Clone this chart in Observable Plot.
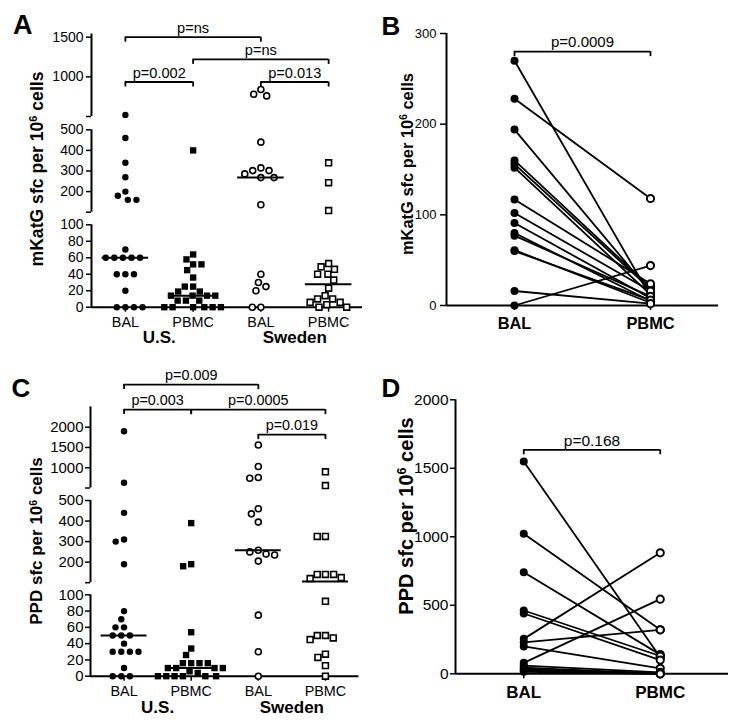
<!DOCTYPE html>
<html><head><meta charset="utf-8">
<script src="https://cdn.jsdelivr.net/npm/d3@7"></script>
<script src="https://cdn.jsdelivr.net/npm/@observablehq/plot@0.6"></script>
<style>
body{margin:0;background:#fff;font-family:"Liberation Sans",Arial,Helvetica,sans-serif;}
#chart{position:relative;width:743px;height:722px;overflow:hidden;background:#fff;}
#chart svg{position:absolute;left:0;top:0;}
.letter{position:absolute;font-weight:bold;line-height:1;color:#000;}
.ytitle{position:absolute;font-weight:bold;line-height:1;white-space:nowrap;transform:translate(-50%,-50%) rotate(-90deg);color:#000;}
.ytitle sup{font-size:0.62em;vertical-align:0.55em;line-height:0;}
</style></head><body><div id="chart"></div><script>
// ---------------- DATA ----------------
const groupKeys = ["US BAL", "US PBMC", "SE BAL", "SE PBMC"];
const groupLabels = ["BAL", "PBMC", "BAL", "PBMC"];
const countryLabels = ["U.S.", "Sweden"];
const sites = ["BAL", "PBMC"];

// Panel A: mKatG sfc per 10^6 cells
const katgUsBal = [520, 460, 340, 270, 200, 180, 160, 160, 70, 60, 60, 60, 60, 60, 40, 40, 40, 20, 0, 0, 0, 0];
const katgUsPbmc = [400, 64, 58, 52, 52, 45, 36, 25, 25, 19, 19, 14, 14, 14, 14, 8, 8, 8, 0, 0, 0, 0, 0, 0];
const katgSeBal = [840, 780, 760, 440, 315, 302, 302, 286, 268, 268, 136, 40, 30, 25, 20, 0, 0];
const katgSePbmc = [340, 243, 108, 53, 49, 46, 40, 40, 33, 23, 14, 10, 10, 6, 6, 3, 0, 0];
const katgTicks = [0, 20, 40, 60, 80, 100, 200, 300, 400, 500, 1000, 1500];
const katgBracketFrom = ["US BAL", "US PBMC", "US BAL", "SE BAL"];
const katgBracketTo = ["SE BAL", "SE PBMC", "US PBMC", "SE PBMC"];
const katgBracketLevel = [1500, 1220, 935, 935];
const katgBracketLabel = ["p=ns", "p=ns", "p=0.002", "p=0.013"];

// Panel B: paired mKatG
const pairKatgBal = [270, 228, 194, 160, 156, 152, 117, 102, 91, 80, 77, 61, 60, 16, 0];
const pairKatgPbmc = [10, 118, 15, 20, 18, 12, 24, 16, 8, 5, 10, 3, 6, 2, 44];
const pairKatgTicks = [0, 100, 200, 300];
const pairKatgBracketLevel = 280;
const pairKatgBracketLabel = "p=0.0009";

// Panel C: PPD sfc per 10^6 cells
const ppdUsBal = [1900, 630, 440, 310, 300, 190, 80, 70, 60, 60, 50, 50, 50, 40, 30, 30, 30, 30, 10, 0, 0, 0];
const ppdUsPbmc = [390, 190, 180, 54, 34, 26, 16, 16, 16, 16, 10, 10, 10, 10, 6, 4, 0, 0, 0, 0, 0, 0];
const ppdSeBal = [1560, 1030, 760, 740, 460, 435, 395, 258, 250, 240, 235, 205, 75, 30, 0];
const ppdSePbmc = [900, 560, 325, 325, 140, 140, 140, 125, 120, 92, 50, 50, 47, 45, 27, 23, 13, 0];
const ppdTicks = [0, 20, 40, 60, 80, 100, 200, 300, 400, 500, 1000, 1500, 2000];
const ppdBracketFrom = ["US BAL", "US BAL", "US PBMC", "SE BAL"];
const ppdBracketTo = ["SE BAL", "US PBMC", "SE PBMC", "SE PBMC"];
const ppdBracketLevel = [3050, 2433, 2433, 1818];
const ppdBracketLabel = ["p=0.009", "p=0.003", "p=0.0005", "p=0.019"];

// Panel D: paired PPD
const pairPpdBal = [1550, 1022, 742, 462, 440, 255, 230, 200, 80, 60, 45, 35, 25, 15];
const pairPpdPbmc = [120, 321, 140, 130, 100, 883, 321, 40, 545, 10, 0, 5, 0, 0];
const pairPpdTicks = [0, 500, 1000, 1500, 2000];
const pairPpdBracketLevel = 1635;
const pairPpdBracketLabel = "p=0.168";

// ---------------- LAYOUT ----------------
const W = 743, H = 722, EPS = 1e-6;
const FONT = '"Liberation Sans", Arial, Helvetica, sans-serif';
const chart = document.getElementById("chart");
const baseStyle = {background: "transparent", overflow: "visible", fontFamily: FONT, color: "#000"};

const dotStyles = [
  {symbol: "circle", r: 3.2, fill: "black", padding: 2.2},
  {symbol: "square", r: 3.6, fill: "black", padding: 1.1},
  {symbol: "circle", r: 3.0, fill: "white", stroke: "black", strokeWidth: 1.6, padding: 2.6},
  {symbol: "square", r: 3.3, fill: "white", stroke: "black", strokeWidth: 1.6, padding: 1.6}
];

function groupPanel(values, ticks, brFrom, brTo, brLevel, brLabel, L) {
  const domain = L.segs.flatMap(([lo, hi], i) => [i ? lo + EPS : lo, hi]);
  const range = L.segs.flatMap(s => [s[2], s[3]]);
  const segLines = L.segs.map(([lo, hi], i) => ({lo: i ? lo + EPS : lo, hi}));
  const allTicks = ticks.concat(segLines.slice(1).map(s => s.lo));
  const xPos = k => groupKeys.indexOf(k) + 1;
  const brackets = brLabel.map((t, i) => ({x1: xPos(brFrom[i]), x2: xPos(brTo[i]), y: brLevel[i], t}));
  const ends = brackets.flatMap(b => [{x: b.x1, y: b.y}, {x: b.x2, y: b.y}]);
  const countries = countryLabels.map((c, i) => ({c, pos: 2 * i + 1.5}));
  const margins = {marginLeft: L.x[0], marginRight: W - L.x[1], marginTop: 0, marginBottom: H - L.segs[0][2]};

  const base = Plot.plot({
    width: W, height: H, ...margins,
    x: {type: "linear", domain: [0.5, 4.5], range: L.x},
    y: {type: "linear", domain, range},
    style: baseStyle,
    marks: [
      Plot.ruleX(segLines, {x: 0.5, y1: "lo", y2: "hi", strokeWidth: 2}),
      Plot.ruleY([0], {x1: 0.5, x2: 4.5, strokeWidth: 2}),
      Plot.axisY({ticks: allTicks, tickFormat: d => ticks.includes(d) ? String(d) : "", tickSize: 5, tickPadding: L.tickPad, fontSize: L.tickFont, strokeWidth: 1.5, label: null}),
      Plot.axisX({ticks: [1, 2, 3, 4], tickFormat: i => groupLabels[i - 1], tickSize: 5, tickPadding: L.catPad, fontSize: L.catFont, strokeWidth: 1.5, label: null}),
      Plot.text(countries, {x: "pos", frameAnchor: "bottom", dy: L.countryDy, text: "c", fontWeight: "bold", fontSize: L.countryFont}),
      Plot.ruleY(brackets, {y: "y", x1: "x1", x2: "x2", strokeWidth: 1.8}),
      Plot.ruleX(ends, {x: "x", y1: "y", y2: "y", insetBottom: -5, strokeWidth: 1.8}),
      Plot.text(brackets, {x: d => (d.x1 + d.x2) / 2, y: "y", text: "t", dy: -9, fontSize: L.pFont})
    ]
  });
  chart.appendChild(base);

  const medians = groupKeys.map((k, i) => ({group: k, m: d3.median(values[i])}));
  const dots = Plot.plot({
    width: W, height: H, ...margins,
    fx: {domain: groupKeys, range: L.x, padding: 0, round: false, axis: null},
    y: {type: "linear", domain, range, axis: null},
    style: baseStyle,
    marks: [
      ...groupKeys.map((k, i) => {
        const pts = values[i].map(v => ({group: k, value: v}));
        const {padding, ...st} = dotStyles[i];
        return Plot.dot(pts, Plot.dodgeX({anchor: "middle", padding}, {fx: "group", y: "value", ...st}));
      }),
      Plot.ruleY(medians, {fx: "group", y: "m", insetLeft: 10.6, insetRight: 10.6, strokeWidth: 2})
    ]
  });
  chart.appendChild(dots);
}

function pairedPanel(bal, pbmc, ticks, level, label, L) {
  const long = bal.flatMap((v, i) => [{id: i, site: 0, value: v}, {id: i, site: 1, value: pbmc[i]}]);
  const yMax = ticks[ticks.length - 1];
  const svg = Plot.plot({
    width: W, height: H,
    marginLeft: L.x[0], marginRight: W - L.x[1], marginTop: 0, marginBottom: H - L.y[0],
    x: {type: "linear", domain: [-0.5, 1.5], range: L.x},
    y: {type: "linear", domain: [0, yMax], range: L.y},
    style: baseStyle,
    marks: [
      Plot.ruleX([{lo: 0, hi: yMax}], {x: -0.5, y1: "lo", y2: "hi", strokeWidth: 2}),
      Plot.ruleY([0], {x1: -0.5, x2: 1.5, strokeWidth: 2}),
      Plot.axisY({ticks, tickFormat: d => String(d), tickSize: L.tickSize, tickPadding: L.tickPad, fontSize: L.tickFont, strokeWidth: 1.5, label: null}),
      Plot.axisX({ticks: [0, 1], tickFormat: i => sites[i], tickSize: 5, tickPadding: L.catPad, fontSize: L.catFont, fontWeight: "bold", strokeWidth: 1.5, label: null}),
      Plot.line(long, {x: "site", y: "value", z: "id", strokeWidth: 1.8}),
      Plot.dot(long.filter(d => d.site === 0), {x: "site", y: "value", r: 4, fill: "black"}),
      Plot.dot(long.filter(d => d.site === 1), {x: "site", y: "value", r: 3.6, fill: "white", stroke: "black", strokeWidth: 2}),
      Plot.ruleY([{x1: 0, x2: 1, y: level}], {y: "y", x1: "x1", x2: "x2", strokeWidth: 1.8}),
      Plot.ruleX([{x: 0, y: level}, {x: 1, y: level}], {x: "x", y1: "y", y2: "y", insetBottom: -5, strokeWidth: 1.8}),
      Plot.text([{x: 0.5, y: level, t: label}], {x: "x", y: "y", text: "t", dy: -9, fontSize: L.pFont})
    ]
  });
  chart.appendChild(svg);
}

groupPanel([katgUsBal, katgUsPbmc, katgSeBal, katgSePbmc], katgTicks,
  katgBracketFrom, katgBracketTo, katgBracketLevel, katgBracketLabel,
  {x: [91, 362], segs: [[0, 100, 306.7, 224.3], [100, 500, 211.7, 129.3], [500, 1540, 116, 33.5]],
   tickFont: 14, tickPad: 3, catFont: 14.4, catPad: 5, countryFont: 17, countryDy: 35.3, pFont: 14.6});

pairedPanel(pairKatgBal, pairKatgPbmc, pairKatgTicks, pairKatgBracketLevel, pairKatgBracketLabel,
  {x: [446, 718], y: [305, 33], tickFont: 13, tickSize: 6, tickPad: 4, catFont: 16.4, catPad: 6.9, pFont: 15});

groupPanel([ppdUsBal, ppdUsPbmc, ppdSeBal, ppdSePbmc], ppdTicks,
  ppdBracketFrom, ppdBracketTo, ppdBracketLevel, ppdBracketLabel,
  {x: [90, 358.5], segs: [[0, 100, 675.7, 594.3], [100, 500, 582.2, 500], [500, 2500, 487.5, 406.4]],
   tickFont: 15, tickPad: 2, catFont: 14.4, catPad: 4.2, countryFont: 17, countryDy: 36.3, pFont: 14.4});

pairedPanel(pairPpdBal, pairPpdPbmc, pairPpdTicks, pairPpdBracketLevel, pairPpdBracketLabel,
  {x: [455, 728], y: [673.3, 399.3], tickFont: 15.5, tickSize: 5, tickPad: 2, catFont: 17, catPad: 7.4, pFont: 15.5});

// Panel letters and axis titles
const letters = [["A", 13, 11.5, 27], ["B", 381.5, 13.3, 26], ["C", 11.5, 375, 26], ["D", 381.5, 375, 26]];
for (const [t, x, y, s] of letters) {
  const d = document.createElement("div");
  d.className = "letter"; d.textContent = t;
  Object.assign(d.style, {left: x + "px", top: y + "px", fontSize: s + "px"});
  chart.appendChild(d);
}
// [text, centre x, centre y, target length along the axis]
const titles = [["mKatG sfc per 10", 38, 169, 195], ["mKatG sfc per 10", 406.7, 164, 182],
                ["PPD sfc per 10", 37, 541, 168], ["PPD sfc per 10", 406, 516, 198]];
for (const [t, x, y, len] of titles) {
  const d = document.createElement("div");
  d.className = "ytitle";
  d.append(t);
  const sup = document.createElement("sup"); sup.textContent = "6"; d.append(sup);
  d.append(" cells");
  Object.assign(d.style, {left: x + "px", top: y + "px", fontSize: "16px"});
  chart.appendChild(d);
  const w = d.offsetWidth;
  if (w > 0) d.style.fontSize = (16 * len / w).toFixed(2) + "px";
}
</script></body></html>
